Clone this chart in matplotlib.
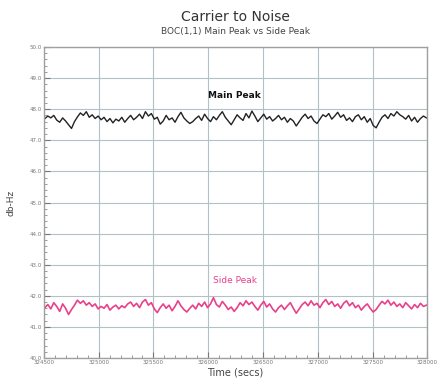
import numpy as np
import matplotlib
matplotlib.use("Agg")
import matplotlib.pyplot as plt
from matplotlib.ticker import MultipleLocator

# C/N0 readings (db-Hz)
main_peak = [
    47.70, 47.78, 47.72, 47.80, 47.65, 47.58, 47.72, 47.62, 47.50, 47.38,
    47.60, 47.75, 47.88, 47.80, 47.92, 47.74, 47.82, 47.70, 47.78, 47.66,
    47.74, 47.60, 47.70, 47.56, 47.68, 47.62, 47.74, 47.58, 47.70, 47.80,
    47.66, 47.74, 47.84, 47.70, 47.92, 47.78, 47.86, 47.68, 47.74, 47.52,
    47.62, 47.80, 47.66, 47.72, 47.58, 47.76, 47.90, 47.72, 47.62, 47.54,
    47.60, 47.70, 47.78, 47.64, 47.84, 47.70, 47.60, 47.76, 47.66, 47.80,
    47.92, 47.74, 47.62, 47.50, 47.66, 47.82, 47.72, 47.64, 47.86, 47.72,
    47.94, 47.78, 47.60, 47.72, 47.84, 47.68, 47.76, 47.62, 47.70, 47.80,
    47.66, 47.74, 47.58, 47.70, 47.62, 47.46, 47.60, 47.74, 47.84, 47.70,
    47.78, 47.62, 47.54, 47.68, 47.82, 47.76, 47.86, 47.68, 47.78, 47.90,
    47.74, 47.82, 47.64, 47.72, 47.60, 47.76, 47.82, 47.66, 47.76, 47.58,
    47.70, 47.48, 47.40, 47.58, 47.74, 47.82, 47.70, 47.86, 47.78, 47.92,
    47.82, 47.76, 47.68, 47.80, 47.62, 47.74, 47.58, 47.70, 47.78, 47.72,
]
side_peak = [
    41.62, 41.72, 41.58, 41.78, 41.66, 41.50, 41.74, 41.60, 41.40, 41.56,
    41.70, 41.86, 41.76, 41.84, 41.70, 41.78, 41.66, 41.74, 41.58, 41.66,
    41.60, 41.72, 41.54, 41.64, 41.70, 41.58, 41.68, 41.62, 41.74, 41.80,
    41.66, 41.76, 41.62, 41.80, 41.88, 41.70, 41.78, 41.58, 41.46, 41.62,
    41.74, 41.60, 41.70, 41.52, 41.66, 41.84, 41.68, 41.56, 41.48, 41.60,
    41.70, 41.58, 41.76, 41.66, 41.80, 41.62, 41.74, 41.94, 41.72, 41.64,
    41.82, 41.70, 41.56, 41.64, 41.50, 41.62, 41.78, 41.68, 41.84, 41.72,
    41.80, 41.66, 41.54, 41.70, 41.82, 41.64, 41.74, 41.58, 41.48, 41.62,
    41.70, 41.56, 41.68, 41.78, 41.60, 41.44, 41.58, 41.72, 41.80, 41.68,
    41.84, 41.70, 41.76, 41.62, 41.78, 41.88, 41.72, 41.82, 41.66, 41.74,
    41.60, 41.76, 41.84, 41.68, 41.78, 41.62, 41.70, 41.54, 41.66, 41.74,
    41.60, 41.48, 41.56, 41.70, 41.82, 41.74, 41.86, 41.70, 41.80, 41.66,
    41.74, 41.62, 41.78, 41.68, 41.58, 41.72, 41.62, 41.76, 41.66, 41.70,
]
t_start, t_end = 324510, 327990
x_ticks = [324500, 325000, 325500, 326000, 326500, 327000, 327500, 328000]
y_ticks = [40.0, 41.0, 42.0, 43.0, 44.0, 45.0, 46.0, 47.0, 48.0, 49.0, 50.0]

times = np.linspace(t_start, t_end, len(main_peak))

fig = plt.figure(figsize=(4.38, 3.85), dpi=100)
ax = fig.add_axes([0.100, 0.070, 0.876, 0.808])

ax.plot(times, main_peak, color="#222222", lw=1.0)
ax.plot(times, side_peak, color="#e8408a", lw=1.2)

ax.set_xlim(324500, 328000)
ax.set_ylim(40.0, 50.0)
ax.set_xticks(x_ticks)
ax.set_xticklabels([str(v) for v in x_ticks])
ax.set_yticks(y_ticks)
ax.set_yticklabels(["%.1f" % v for v in y_ticks])
ax.xaxis.set_minor_locator(MultipleLocator(100))
ax.yaxis.set_minor_locator(MultipleLocator(0.2))
ax.tick_params(axis="both", which="major", labelsize=4, colors="#777777",
               length=4, direction="in", pad=1.5)
ax.tick_params(axis="both", which="minor", length=2.5, direction="in",
               colors="#888888")
ax.grid(True, which="major", color="#b4c0c8", lw=0.8)
for sp in ax.spines.values():
    sp.set_color("#a0a0a0")
    sp.set_linewidth(1.0)

ax.text(326240, 48.45, "Main Peak", ha="center", va="center",
        fontsize=6.5, fontweight="bold", color="#111111")
ax.text(326240, 42.5, "Side Peak", ha="center", va="center",
        fontsize=6.5, color="#e8408a")

ax.set_xlabel("Time (secs)", fontsize=7, color="#444444", labelpad=2)
ax.set_ylabel("db-Hz", fontsize=6.5, color="#444444", labelpad=10)

fig.text(0.538, 0.955, "Carrier to Noise", ha="center", va="center",
         fontsize=10, color="#333333")
fig.text(0.538, 0.918, "BOC(1,1) Main Peak vs Side Peak", ha="center",
         va="center", fontsize=6.5, color="#444444")

fig.savefig("out.png", dpi=100)
